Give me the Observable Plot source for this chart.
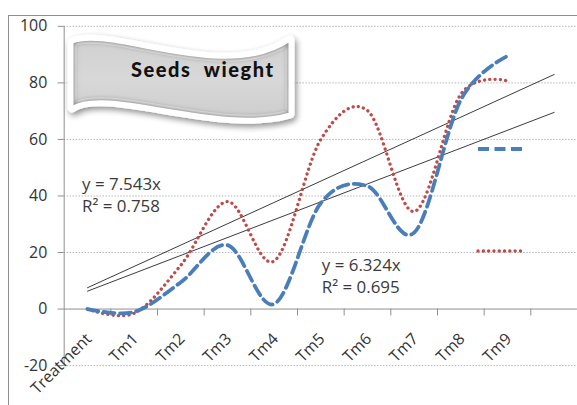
<!DOCTYPE html>
<html>
<head>
<meta charset="utf-8">
<script src="https://cdn.jsdelivr.net/npm/d3@7"></script>
<script src="https://cdn.jsdelivr.net/npm/@observablehq/plot@0.6"></script>
<style>
  html, body { margin: 0; padding: 0; background: #fff; overflow: hidden; }
  #wrap { position: relative; width: 577px; height: 405px; overflow: hidden; font-family: "Open Sans", sans-serif; }
  #frame { position: absolute; left: 8px; top: 15px; width: 600px; height: 420px; border-left: 1.6px solid #8e8e8e; border-top: 1.6px solid #8e8e8e; box-sizing: border-box; }
  #chart { position: absolute; left: 0; top: 0; }
  #overlay { position: absolute; left: 0; top: 0; pointer-events: none; }
</style>
</head>
<body>
<div id="wrap">
  <div id="frame"></div>
  <div id="chart"></div>
  <svg id="overlay" width="577" height="405"></svg>
</div>
<script>
// ---- data ----
const categories = ["Treatment", "Tm1", "Tm2", "Tm3", "Tm4", "Tm5", "Tm6", "Tm7", "Tm8", "Tm9"];
const blueValues = [0, -1, 9.5, 22.6, 1.8, 37.5, 43.5, 27, 74, 89.5];
const redValues  = [0, -1.5, 15.5, 38, 17, 60, 70.2, 34.5, 76, 80.7];
const trendSlopes = [7.543, 6.324];          // red-series trend, blue-series trend
const trendR2 = [0.758, 0.695];
const trendSpan = [1, 11];                   // first category to one-period forecast
const yTicks = [-20, 0, 20, 40, 60, 80, 100];
const titleText = "Seeds  wieght";

// ---- build tables ----
const blueData = categories.map((c, i) => ({x: i + 1, y: blueValues[i]}));
const redData  = categories.map((c, i) => ({x: i + 1, y: redValues[i]}));
const trendData = trendSlopes.flatMap((s, k) => trendSpan.map(x => ({k, x, y: s * x})));
const boundaries = d3.range(categories.length + 2).map(i => i + 0.5).slice(1);
const eqLabels = trendSlopes.map((s, k) => `y = ${s.toFixed(3)}x\nR² = ${trendR2[k].toFixed(3)}`);

const blue = "#4a7ebb", red = "#be4b48";

const chart = Plot.plot({
  width: 580,
  height: 405,
  marginLeft: 64,
  marginRight: 0,
  marginTop: 26,
  marginBottom: 38,
  style: {fontFamily: "'Open Sans', sans-serif", background: "transparent", overflow: "visible"},
  x: {type: "linear", domain: [0.5, 11.5], axis: null},
  y: {domain: [-20, 100], axis: null},
  marks: [
    Plot.ruleY(yTicks.filter(d => d !== 0), {stroke: "#b5b5b5", strokeDasharray: "1.5,1.5", strokeWidth: 1}),
    Plot.ruleY([0], {stroke: "#8e8e8e", strokeWidth: 1}),
    Plot.ruleX([0.5], {y1: -20, y2: 100, stroke: "#8e8e8e", strokeWidth: 1}),
    Plot.axisY({ticks: yTicks, label: null, tickFormat: d => String(d), tickSize: 6, tickPadding: 11, stroke: "#8e8e8e", fontSize: 16, fill: "#333"}),
    Plot.ruleX(boundaries, {x: d => d, y1: 0, y2: 0, insetBottom: -7, stroke: "#8e8e8e"}),
    Plot.text(categories, {x: (d, i) => i + 1, y: 0, text: d => d, rotate: -45, textAnchor: "end", lineAnchor: "bottom", dx: 5, dy: 31, fontSize: 16, fill: "#333"}),
    Plot.line(trendData, {x: "x", y: "y", z: "k", stroke: "#3a3a3a", strokeWidth: 1}),
    Plot.line(redData, {x: "x", y: "y", curve: "cardinal", stroke: red, strokeWidth: 3.3, strokeLinecap: "round", strokeDasharray: "0.1,5.2"}),
    Plot.line(blueData, {x: "x", y: "y", curve: "cardinal", stroke: blue, strokeWidth: 3.8, strokeDasharray: "11,5.5"}),
    Plot.text([eqLabels[0]], {frameAnchor: "top-left", text: d => d, textAnchor: "start", lineAnchor: "top", lineHeight: 1.3, dx: 18, dy: 149, fontSize: 17, fill: "#3a3a3a"}),
    Plot.text([eqLabels[1]], {frameAnchor: "top-left", text: d => d, textAnchor: "start", lineAnchor: "top", lineHeight: 1.3, dx: 259, dy: 230, fontSize: 17, fill: "#3a3a3a"})
  ]
});
document.getElementById("chart").appendChild(chart);

// ---- decorative title banner and legend swatches ----
const ov = document.getElementById("overlay");
const bannerPath = "M72,42 C112,26 225,85 290,40 L290,114 C220,135 105,85 72,108 Z";
ov.innerHTML = `
<defs>
  <filter id="shadow" x="-20%" y="-30%" width="140%" height="160%">
    <feGaussianBlur in="SourceAlpha" stdDeviation="3"/>
    <feOffset dx="2" dy="3" result="b"/>
    <feComponentTransfer><feFuncA type="linear" slope="0.45"/></feComponentTransfer>
    <feMerge><feMergeNode/><feMergeNode in="SourceGraphic"/></feMerge>
  </filter>
  <filter id="blur2"><feGaussianBlur stdDeviation="2.2"/></filter>
  <clipPath id="bclip"><path d="${bannerPath}"/></clipPath>
  <linearGradient id="bfill" x1="0" y1="0" x2="0" y2="1">
    <stop offset="0" stop-color="#d0d0d0"/>
    <stop offset="0.5" stop-color="#d8d8d8"/>
    <stop offset="1" stop-color="#cdcdcd"/>
  </linearGradient>
</defs>
<g filter="url(#shadow)">
  <path d="${bannerPath}" fill="url(#bfill)" stroke="#ffffff" stroke-width="9" stroke-linejoin="round"/>
</g>
<g clip-path="url(#bclip)">
  <path d="${bannerPath}" fill="none" stroke="#969696" stroke-width="7" filter="url(#blur2)"/>
</g>
<path d="${bannerPath}" fill="none" stroke="#ffffff" stroke-width="3" stroke-linejoin="round"/>
<text x="131" y="77" font-family="Lato, sans-serif" font-weight="900" font-size="20" fill="#111" textLength="142" lengthAdjust="spacing" xml:space="preserve">${titleText}</text>
<line x1="478" x2="527" y1="149" y2="149" stroke="${blue}" stroke-width="3.8" stroke-dasharray="11,5.5"/>
<line x1="478" x2="523" y1="251" y2="251" stroke="${red}" stroke-width="3.3" stroke-linecap="round" stroke-dasharray="0.1,5.2"/>
`;
</script>
</body>
</html>
